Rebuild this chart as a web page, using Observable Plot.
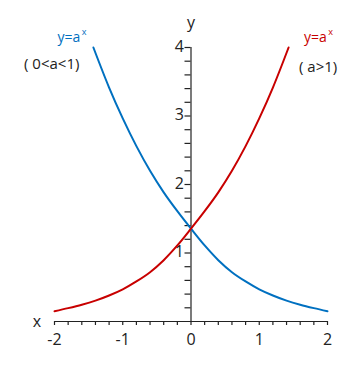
<!DOCTYPE html>
<html>
<head>
<meta charset="utf-8">
<script src="https://cdn.jsdelivr.net/npm/d3@7"></script>
<script src="https://cdn.jsdelivr.net/npm/@observablehq/plot@0.6"></script>
<style>
  html, body { margin: 0; padding: 0; background: #fff; }
  #chart svg { display: block; }
</style>
</head>
<body>
<div id="chart"></div>
<script>
// Curve y = a^x with a > 1 (red)
const redX = [-2, -1.8, -1.6, -1.4, -1.2, -1, -0.8, -0.6, -0.4, -0.2, 0, 0.2, 0.4, 0.6, 0.8, 1.0, 1.2, 1.43];
const redY = [0.15, 0.195, 0.245, 0.305, 0.38, 0.47, 0.585, 0.72, 0.895, 1.11, 1.355, 1.61, 1.885, 2.2, 2.56, 2.965, 3.415, 4.0];
// Curve y = a^x with 0 < a < 1 (blue)
const blueX = [-1.43, -1.2, -1.0, -0.8, -0.6, -0.4, -0.2, 0, 0.2, 0.4, 0.6, 0.8, 1, 1.2, 1.4, 1.6, 1.8, 2];
const blueY = [4.0, 3.415, 2.965, 2.56, 2.2, 1.885, 1.61, 1.355, 1.11, 0.895, 0.72, 0.585, 0.47, 0.38, 0.305, 0.245, 0.195, 0.15];

// Tick values and labels
const xTickLabels = [-2, -1, 0, 1, 2];
const xMinorTicks = d3.range(0, 21).map(i => -2 + i * 0.2);
const yTickLabels = [1, 2, 3, 4];
const yMinorTicks = d3.range(1, 21).map(i => i * 0.2);

const red = redX.map((x, i) => ({x, y: redY[i]}));
const blue = blueX.map((x, i) => ({x, y: blueY[i]}));

const ink = "#222";
const blueC = "#0070c0";
const redC = "#c80000";
const font = "'Open Sans', sans-serif";

const chart = Plot.plot({
  width: 358,
  height: 372,
  marginLeft: 54,
  marginRight: 31,
  marginTop: 47,
  marginBottom: 51,
  style: {fontFamily: font, background: "#fff", overflow: "visible"},
  x: {domain: [-2, 2], axis: null},
  y: {domain: [0, 4], axis: null},
  marks: [
    // x axis at y = 0
    Plot.ruleY([0], {stroke: ink, strokeWidth: 1.2}),
    Plot.ruleX(xMinorTicks, {x: d => d, y1: 0, y2: 0, insetBottom: -4, stroke: ink, strokeWidth: 1.2}),
    Plot.text(xTickLabels, {x: d => d, y: 0, dy: 18, text: d => String(d), fontSize: 16, fill: ink}),
    // y axis at x = 0
    Plot.ruleX([0], {y1: 0, y2: 4, stroke: ink, strokeWidth: 1.2}),
    Plot.ruleY(yMinorTicks, {y: d => d, x1: 0, x2: 0, insetLeft: -6, stroke: ink, strokeWidth: 1.2}),
    Plot.text(yTickLabels, {x: 0, y: d => d, dx: -7, dy: -1, textAnchor: "end", text: d => String(d), fontSize: 16, fill: ink}),
    // axis names
    Plot.text(["y"], {x: 0, y: 4.365, text: d => d, fontSize: 16, fill: ink}),
    Plot.text(["x"], {x: -2.256, y: -0.01, text: d => d, fontSize: 16, fill: ink}),
    // curves
    Plot.line(blue, {x: "x", y: "y", stroke: blueC, strokeWidth: 2, curve: "catmull-rom"}),
    Plot.line(red, {x: "x", y: "y", stroke: redC, strokeWidth: 2, curve: "catmull-rom"}),
    // annotations
    Plot.text(["y=a"], {x: -1.956, y: 4.146, text: d => d, textAnchor: "start", fontSize: 14, fill: blueC}),
    Plot.text(["x"], {x: -1.565, y: 4.23, text: d => d, fontSize: 9, fill: blueC}),
    Plot.text(["( 0<a<1)"], {x: -2.447, y: 3.75, text: d => d, textAnchor: "start", fontSize: 15, fill: ink}),
    Plot.text(["y=a"], {x: 1.656, y: 4.146, text: d => d, textAnchor: "start", fontSize: 14, fill: redC}),
    Plot.text(["x"], {x: 2.045, y: 4.23, text: d => d, fontSize: 9, fill: redC}),
    Plot.text(["( a>1)"], {x: 1.582, y: 3.71, text: d => d, textAnchor: "start", fontSize: 15, fill: ink})
  ]
});
document.getElementById("chart").appendChild(chart);
</script>
</body>
</html>
